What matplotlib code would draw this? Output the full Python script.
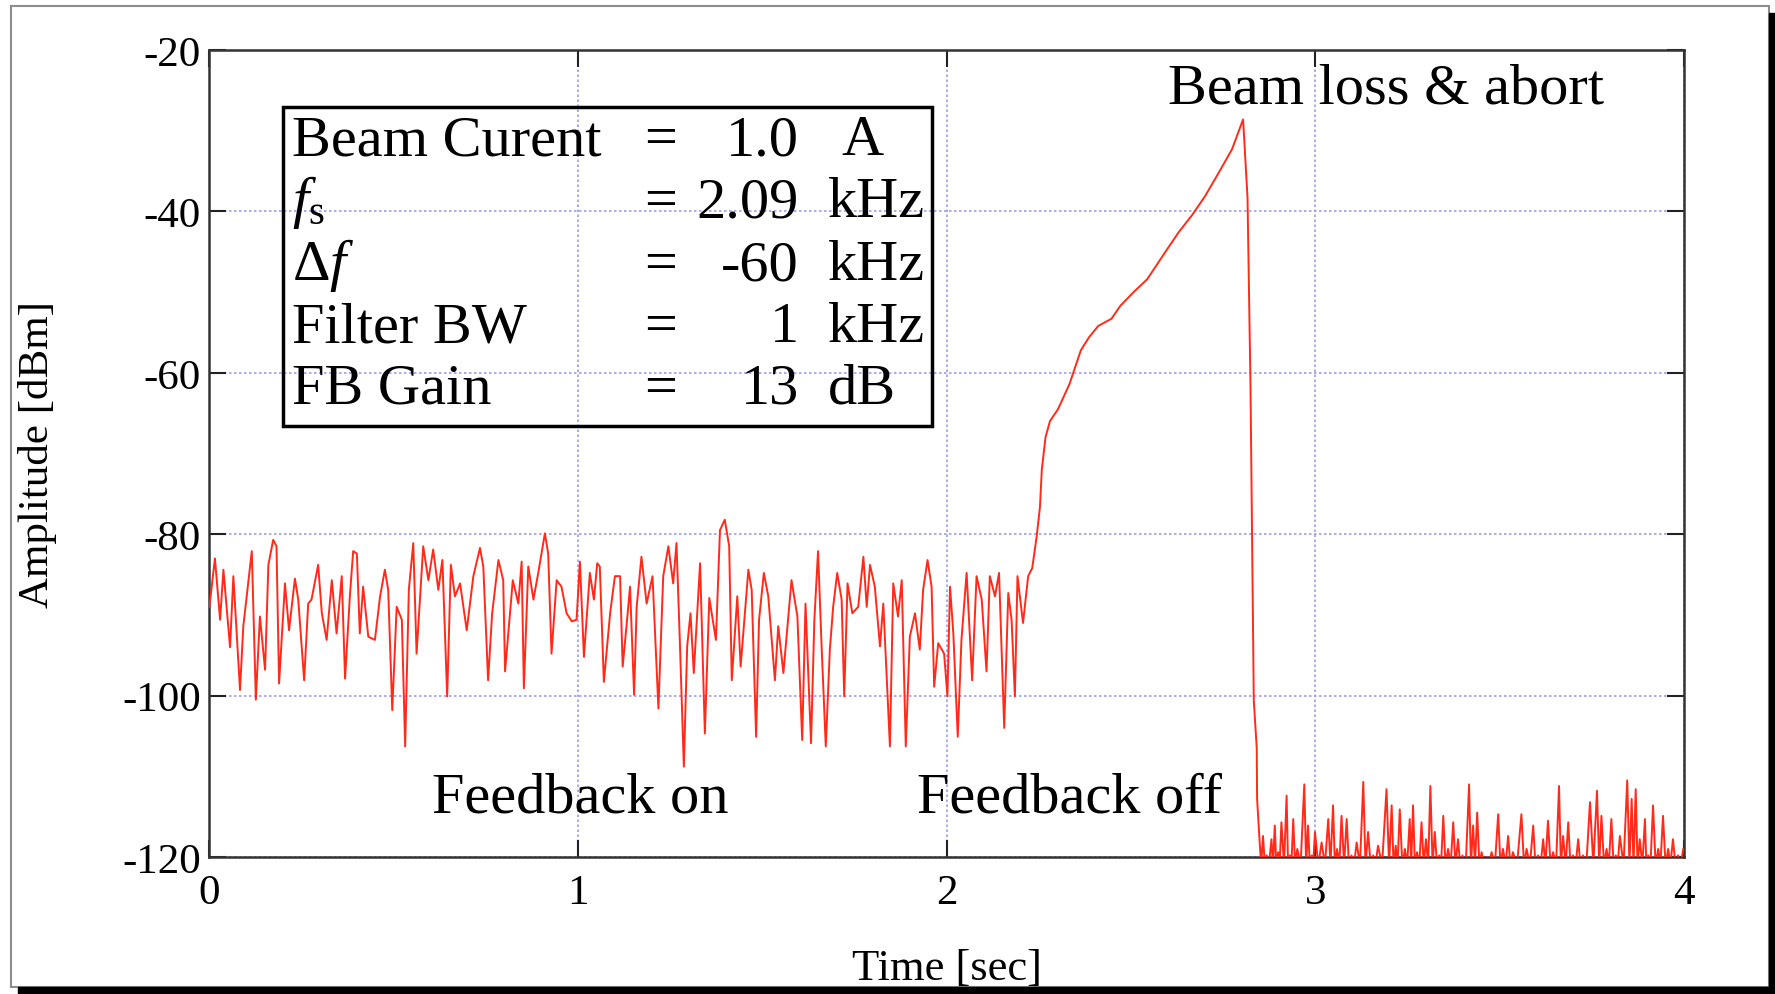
import matplotlib

matplotlib.use("Agg")
import matplotlib.pyplot as plt
import numpy as np
from matplotlib.patches import Rectangle

plt.rcParams["font.family"] = ["Liberation Serif", "DejaVu Serif"]
plt.rcParams["mathtext.fontset"] = "custom"
plt.rcParams["mathtext.rm"] = "Liberation Serif"
plt.rcParams["mathtext.it"] = "Liberation Serif:italic"
plt.rcParams["axes.unicode_minus"] = False

# Feedback on: (time [s], amplitude [dBm])
T_FB_ON = [
    0.000, 0.015, 0.029, 0.038, 0.056, 0.065, 0.083, 0.092, 0.115, 0.126,
    0.137, 0.151, 0.160, 0.173, 0.182, 0.189, 0.205, 0.216, 0.232, 0.241,
    0.257, 0.268, 0.277, 0.295, 0.305, 0.318, 0.332, 0.345, 0.359, 0.368,
    0.381, 0.390, 0.400, 0.408, 0.417, 0.431, 0.449, 0.463, 0.476, 0.485,
    0.496, 0.508, 0.522, 0.531, 0.541, 0.553, 0.562, 0.580, 0.594, 0.607,
    0.621, 0.632, 0.645, 0.655, 0.666, 0.680, 0.698, 0.716, 0.734, 0.743,
    0.756, 0.767, 0.784, 0.797,
    0.802, 0.823, 0.838, 0.847, 0.853, 0.865, 0.879, 0.892, 0.910, 0.919,
    0.928, 0.942, 0.955, 0.969, 0.983, 0.996, 1.005, 1.016, 1.032, 1.043,
    1.052, 1.059, 1.070, 1.087, 1.100, 1.114, 1.121, 1.132, 1.141, 1.152,
    1.159, 1.172, 1.186, 1.202, 1.218, 1.231, 1.245, 1.258, 1.267, 1.276,
    1.287, 1.296, 1.305, 1.314, 1.331, 1.344, 1.356, 1.374, 1.385, 1.398,
    1.410, 1.417, 1.432, 1.441, 1.462, 1.471, 1.483, 1.491, 1.504, 1.516,
    1.534, 1.543, 1.557, 1.579, 1.595,
    1.608, 1.617, 1.632, 1.641, 1.651, 1.661, 1.672, 1.683, 1.692, 1.703,
    1.715, 1.722, 1.731, 1.744, 1.760, 1.774, 1.783, 1.792, 1.805, 1.819,
    1.828, 1.846, 1.855, 1.868, 1.878, 1.889, 1.900, 1.914, 1.927, 1.936,
    1.948, 1.959, 1.966, 1.977, 1.993, 2.002, 2.009, 2.018, 2.030, 2.040,
    2.054, 2.069, 2.081, 2.095, 2.108, 2.117, 2.131, 2.142, 2.156, 2.167,
    2.176, 2.185, 2.192, 2.207, 2.221, 2.232, 2.244, 2.253,
]
AMP_FB_ON = [
    -89.0, -83.0, -90.6, -84.4, -94.0, -85.2, -99.3, -91.4, -82.1, -100.5,
    -90.2, -96.8, -83.8, -80.7, -81.5, -98.5, -86.1, -91.9, -85.5, -88.1,
    -98.1, -88.6, -88.1, -83.8, -89.8, -93.1, -85.7, -92.3, -85.2, -97.9,
    -87.7, -82.1, -82.4, -92.3, -86.5, -92.7, -93.1, -87.7, -84.4, -86.9,
    -101.8, -89.0, -90.6, -106.3, -86.9, -81.1, -94.8, -81.5, -85.7, -81.9,
    -86.9, -83.2, -100.1, -83.8, -87.7, -86.1, -91.9, -85.2, -81.7, -84.0,
    -98.1, -89.8, -83.2, -85.7,
    -97.0, -85.7, -88.6, -83.4, -99.1, -84.0, -88.1, -84.8, -79.9, -82.4,
    -94.8, -85.7, -86.5, -89.8, -90.8, -90.6, -83.4, -95.2, -84.8, -88.1,
    -83.6, -84.0, -98.3, -89.8, -85.2, -85.2, -96.4, -91.1, -86.5, -99.9,
    -89.0, -82.8, -88.6, -85.2, -101.6, -85.2, -81.5, -86.1, -81.1, -93.1,
    -108.8, -93.9, -89.8, -97.2, -83.6, -104.7, -87.9, -93.1, -79.5, -78.2,
    -81.5, -98.1, -87.7, -96.4, -84.4, -86.9, -105.1, -90.6, -84.8, -87.7,
    -98.1, -91.4, -97.2, -85.7, -90.2,
    -105.5, -88.6, -105.9, -90.6, -82.1, -94.3, -106.3, -94.3, -89.0, -84.8,
    -88.1, -100.1, -86.1, -89.8, -89.0, -82.8, -89.0, -83.8, -86.5, -93.9,
    -88.6, -106.3, -86.1, -90.2, -85.7, -106.3, -92.7, -89.8, -94.3, -86.9,
    -83.2, -86.5, -98.9, -93.5, -94.8, -100.1, -86.5, -92.3, -105.1, -93.1,
    -84.8, -98.1, -85.2, -88.1, -97.0, -85.2, -87.7, -84.8, -104.0, -87.3,
    -90.6, -100.1, -85.2, -91.0, -85.2, -84.2, -80.3, -76.6,
]

# Feedback off: instability growth up to the beam loss
T_GROWTH = [2.258, 2.268, 2.280, 2.302, 2.333, 2.364, 2.386, 2.411, 2.447,
            2.471, 2.507, 2.544, 2.592, 2.629, 2.665, 2.701, 2.738, 2.774,
            2.804]
AMP_GROWTH = [-72.0, -68.0, -66.0, -64.5, -61.4, -57.2, -55.6, -54.2, -53.3,
              -51.7, -50.0, -48.4, -45.1, -42.6, -40.5, -38.1, -35.2, -32.3,
              -28.6]

# Abort: collapse of the signal
T_ABORT = [2.816, 2.824, 2.833, 2.841, 2.842]
AMP_ABORT = [-38.3, -61.4, -100.6, -106.5, -112.8]

# After the abort: noise peaks ...
T_AFTER = [
    2.849, 2.858, 2.868, 2.881, 2.890, 2.899, 2.908, 2.922, 2.931, 2.940,
    2.951, 2.970, 2.980, 2.990, 2.999, 3.017, 3.035, 3.048, 3.059, 3.071,
    3.085, 3.098, 3.112, 3.130, 3.143, 3.157, 3.170, 3.193, 3.207, 3.218,
    3.229, 3.243, 3.256, 3.265, 3.276, 3.288, 3.300, 3.312, 3.324, 3.336,
    3.347, 3.360, 3.374, 3.387, 3.399, 3.417, 3.428, 3.439, 3.451, 3.464,
    3.478, 3.496, 3.509, 3.523, 3.536, 3.559, 3.573, 3.591, 3.604, 3.618,
    3.631, 3.645, 3.661, 3.672, 3.686, 3.699, 3.713, 3.726, 3.745, 3.764,
    3.776, 3.790, 3.803, 3.815, 3.826, 3.846, 3.858, 3.869, 3.880, 3.894,
    3.903, 3.916, 3.930, 3.943, 3.957, 3.970, 3.984, 3.998,
]
AMP_AFTER = [
    -118.2, -117.4, -119.8, -117.8, -116.1, -119.4, -115.7, -112.4, -119.8, -115.3,
    -119.0, -111.0, -116.1, -119.8, -116.9, -118.2, -115.3, -113.6, -119.0, -114.9,
    -115.3, -119.8, -118.2, -110.7, -116.9, -119.8, -118.6, -111.6, -113.6, -118.6,
    -114.1, -119.0, -115.3, -113.6, -119.4, -115.7, -117.8, -111.2, -116.9, -119.8,
    -114.9, -119.0, -115.7, -117.8, -119.8, -111.0, -116.1, -114.5, -119.4, -120.0,
    -119.4, -114.7, -119.0, -117.4, -119.4, -114.7, -119.0, -116.1, -119.8, -117.8,
    -115.5, -119.4, -111.2, -117.4, -115.7, -119.8, -117.8, -119.8, -113.2, -111.8,
    -114.9, -119.0, -115.3, -119.8, -117.4, -110.5, -112.8, -111.6, -117.8, -115.3,
    -119.8, -113.6, -119.0, -114.9, -119.0, -117.8, -119.8, -119.0,
]
# ... and the floor dips between them (clipped at the axis)
T_FLOOR = [
    2.853, 2.863, 2.874, 2.885, 2.894, 2.903, 2.915, 2.926, 2.935, 2.945,
    2.960, 2.975, 2.985, 2.994, 3.008, 3.026, 3.041, 3.053, 3.065, 3.078,
    3.091, 3.105, 3.121, 3.136, 3.150, 3.163, 3.181, 3.200, 3.212, 3.223,
    3.236, 3.249, 3.260, 3.270, 3.282, 3.294, 3.306, 3.318, 3.330, 3.341,
    3.353, 3.367, 3.380, 3.393, 3.408, 3.422, 3.433, 3.445, 3.457, 3.471,
    3.487, 3.502, 3.516, 3.529, 3.547, 3.566, 3.582, 3.597, 3.611, 3.624,
    3.638, 3.653, 3.666, 3.679, 3.692, 3.706, 3.719, 3.735, 3.754, 3.770,
    3.783, 3.796, 3.809, 3.820, 3.836, 3.852, 3.863, 3.874, 3.887, 3.898,
    3.909, 3.923, 3.936, 3.950, 3.963, 3.977, 3.991,
]
AMP_FLOOR = [-121.0] * len(T_FLOOR)

# Parameter table in the inset box
PARAM_NAMES = ["Beam Curent", r"$\mathit{f}_{\mathrm{s}}$", r"$\Delta\mathit{f}$",
               "Filter BW", "FB Gain"]
PARAM_VALUES = ["1.0", "2.09", "-60", "1", "13"]
PARAM_UNITS = ["A", "kHz", "kHz", "kHz", "dB"]

X_TICKS = [0, 1, 2, 3, 4]
Y_TICKS = [-20, -40, -60, -80, -100, -120]

W, H = 1775, 995
fig = plt.figure(figsize=(W / 100, H / 100), dpi=100)
ax = fig.add_axes([209.4 / W, 1 - 858 / H, (1684 - 209.4) / W, (858 - 51) / H])

t_after = np.concatenate([T_AFTER, T_FLOOR])
a_after = np.concatenate([AMP_AFTER, AMP_FLOOR])
order = np.argsort(t_after)
t = np.concatenate([T_FB_ON, T_GROWTH, T_ABORT, t_after[order]])
amp = np.concatenate([AMP_FB_ON, AMP_GROWTH, AMP_ABORT, a_after[order]])
ax.plot(t, amp, color="#ff2a18", linewidth=1.4, zorder=3)

ax.set_xlim(0, 4)
ax.set_ylim(-120, -20)
ax.set_xticks(X_TICKS)
ax.set_yticks(Y_TICKS)
ax.tick_params(direction="in", length=12, width=1.5, top=True, right=True,
               labelsize=31, color="#222222")
ax.tick_params(axis="x", pad=12)
ax.tick_params(axis="y", pad=6)
for sp in ax.spines.values():
    sp.set_linewidth(1.8)
    sp.set_color("#333333")
ax.grid(True, color="#9c9cee", linestyle=(0, (1.5, 1.5)), linewidth=1.2)
ax.set_axisbelow(True)

ax.set_xlabel("Time [sec]", fontsize=32, labelpad=26)
ax.set_ylabel("Amplitude [dBm]", fontsize=31, labelpad=47)

# inset parameter box
ax.add_patch(Rectangle((0.2, -66.6), 1.76, 39.5, fill=False, edgecolor="black",
                       linewidth=2.5, zorder=4))
baselines = [-32.9, -40.6, -48.4, -56.1, -63.7]
for name, val, unit, yb in zip(PARAM_NAMES, PARAM_VALUES, PARAM_UNITS, baselines):
    ax.text(0.225, yb, name, fontsize=42, va="baseline", ha="left", zorder=5)
    ax.text(1.224, yb, "=", fontsize=42, va="baseline", ha="center", zorder=5)
    ax.text(1.599, yb, val, fontsize=42, va="baseline", ha="right", zorder=5)
    ux = 1.714 if unit == "A" else 1.678
    ax.text(ux, yb, unit, fontsize=42, va="baseline", ha="left", zorder=5)

ax.text(1.005, -114.4, "Feedback on", fontsize=42, ha="center", va="baseline")
ax.text(2.332, -114.4, "Feedback off", fontsize=42, ha="center", va="baseline")
ax.text(3.193, -26.5, "Beam loss & abort", fontsize=42, ha="center",
        va="baseline")

# picture frame with drop shadow
fig.patches.append(Rectangle((11 / W, 1 - 988 / H), (1769 - 11) / W, (988 - 7) / H,
                             transform=fig.transFigure, fill=False,
                             edgecolor="#8c8c8c", linewidth=1.5))
fig.patches.append(Rectangle((1769 / W, 0), 6 / W, 1 - 14 / H,
                             transform=fig.transFigure, color="black"))
fig.patches.append(Rectangle((18 / W, 0), (W - 18) / W, 7 / H,
                             transform=fig.transFigure, color="black"))

fig.savefig("out.png", dpi=100)
